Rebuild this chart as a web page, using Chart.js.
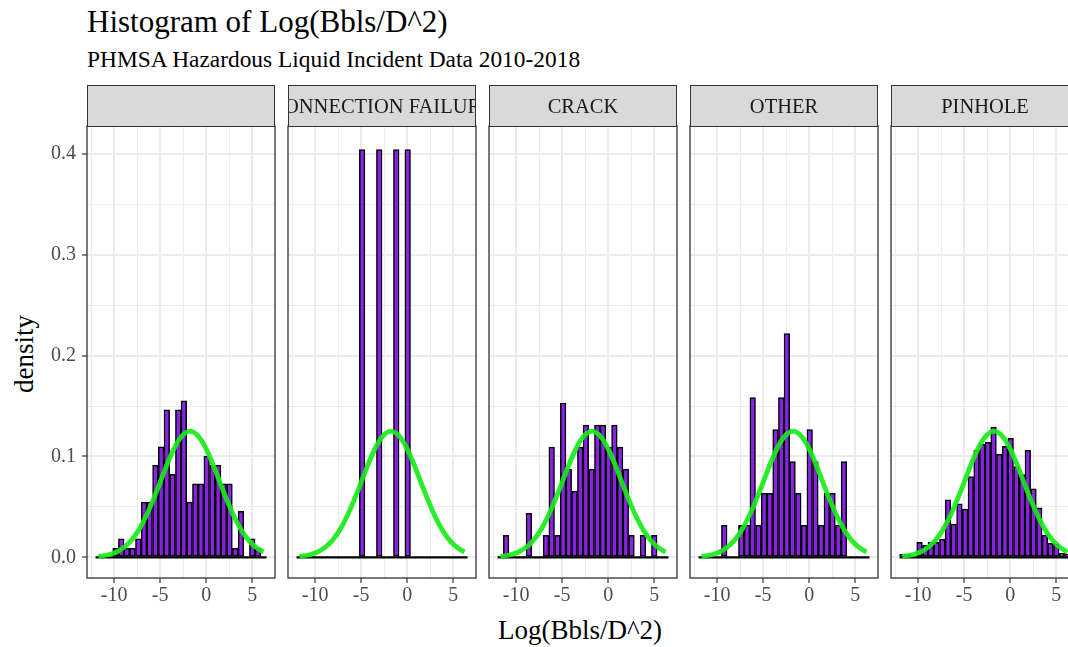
<!DOCTYPE html>
<html>
<head>
<meta charset="utf-8">
<script src="https://cdn.jsdelivr.net/npm/chart.js@4.4.0/dist/chart.umd.min.js"></script>
<style>
  html, body { margin: 0; padding: 0; background: #fff; width: 1068px; height: 647px; overflow: hidden; }
  body { position: relative; font-family: "Liberation Serif", "Times New Roman", serif; color: #000; }
  .title { position: absolute; left: 87px; top: 6px; font-size: 31px; line-height: 1; white-space: nowrap; }
  .subtitle { position: absolute; left: 87px; top: 48px; font-size: 23.4px; line-height: 1; white-space: nowrap; }
  .strip { position: absolute; top: 85px; width: 188px; height: 42px; box-sizing: border-box;
           border: 1px solid #333; background: #d9d9d9; color: #1a1a1a; font-size: 20.5px;
           display: flex; align-items: center; justify-content: center; overflow: hidden; white-space: nowrap; }
  canvas.panel { position: absolute; top: 122px; }
  .xtitle { position: absolute; left: 380px; width: 400px; top: 617px; text-align: center; font-size: 27px; line-height: 1; }
  .ytitle { position: absolute; left: 24px; top: 354px; font-size: 27px; line-height: 1; white-space: nowrap;
            transform: translate(-50%, -50%) rotate(-90deg); }
</style>
</head>
<body>
<div class="title">Histogram of Log(Bbls/D^2)</div>
<div class="subtitle">PHMSA Hazardous Liquid Incident Data 2010-2018</div>
<div class="xtitle">Log(Bbls/D^2)</div>
<div class="ytitle">density</div>
<div id="wrap"></div>
<script>
// facet labels (first one is a blank cause)
const facets = ["", "CONNECTION FAILURE", "CRACK", "OTHER", "PINHOLE"];

// histogram bin centres, width 0.619
const binWidth = 0.619;
const binMids = [-11.70, -11.08, -10.46, -9.84, -9.22, -8.61, -7.99, -7.37, -6.75, -6.13,
                 -5.51, -4.89, -4.27, -3.65, -3.03, -2.42, -1.80, -1.18, -0.56, 0.06,
                 0.68, 1.30, 1.92, 2.54, 3.16, 3.78, 4.39, 5.01, 5.63, 6.25];

// densities per facet, one value per bin
const blankVals = [0, 0, 0, 0.0091, 0.0183, 0.0091, 0.0091, 0.0183, 0.0548, 0.0548,
                   0.0913, 0.1095, 0.1461, 0.0822, 0.1461, 0.1552, 0.0548, 0.0730, 0.0730, 0.1004,
                   0.0913, 0.0913, 0.0730, 0.0730, 0.0091, 0.0456, 0, 0.0183, 0.0091, 0];
const connectionVals = [0, 0, 0, 0, 0, 0, 0, 0, 0, 0,
                        0, 0.404, 0, 0, 0.404, 0, 0, 0.404, 0, 0.404,
                        0, 0, 0, 0, 0, 0, 0, 0, 0, 0];
const crackVals = [0, 0.0218, 0, 0, 0, 0.0437, 0, 0, 0.0218, 0.1092,
                   0.0218, 0.1529, 0.0874, 0.0655, 0.1092, 0.1310, 0.0874, 0.1310, 0.1310, 0.1092,
                   0.1310, 0.1092, 0.0874, 0.0218, 0, 0.0218, 0, 0.0218, 0, 0];
const otherVals = [0, 0, 0, 0, 0.0317, 0, 0, 0.0317, 0.0317, 0.1584,
                   0.0317, 0.0634, 0.0634, 0.1267, 0.1584, 0.2218, 0.0950, 0.0634, 0.0317, 0.1267,
                   0.0950, 0.0317, 0.0634, 0.0634, 0.0317, 0.0950, 0, 0, 0, 0];
const pinholeVals = [0.003, 0.003, 0, 0.015, 0.012, 0.015, 0.015, 0.018, 0.057, 0.033,
                     0.053, 0.048, 0.080, 0.106, 0.112, 0.114, 0.129, 0.102, 0.110, 0.118,
                     0.090, 0.082, 0.106, 0.068, 0.049, 0.022, 0.014, 0.013, 0.004, 0.003];
const facetVals = [blankVals, connectionVals, crackVals, otherVals, pinholeVals];

// normal density overlay (same in every facet)
const curveX = [-11.7, -11, -10.5, -10, -9.5, -9, -8.5, -8, -7.5, -7, -6.5, -6, -5.5, -5, -4.5,
                -4, -3.5, -3, -2.5, -2, -1.75, -1.5, -1, -0.5, 0, 0.5, 1, 1.5, 2, 2.5, 3, 3.5,
                4, 4.5, 5, 5.5, 6, 6.24];
const curveY = [0.0010, 0.0019, 0.0029, 0.0044, 0.0065, 0.0094, 0.0133, 0.0183, 0.0246, 0.0323,
                0.0412, 0.0515, 0.0626, 0.0744, 0.0862, 0.0975, 0.1075, 0.1158, 0.1216, 0.1246,
                0.1250, 0.1246, 0.1216, 0.1158, 0.1075, 0.0975, 0.0862, 0.0744, 0.0626, 0.0515,
                0.0412, 0.0323, 0.0246, 0.0183, 0.0133, 0.0094, 0.0065, 0.0054];

// axis ticks (majors labelled, minors only as grid)
const xTicks = [-12.5, -10, -7.5, -5, -2.5, 0, 2.5, 5];
const yTicks = [0, 0.05, 0.1, 0.15, 0.2, 0.25, 0.3, 0.35, 0.4];

const PURPLE = "#8a22e4";
const GREEN = "rgba(24, 236, 24, 0.92)";
const GRID = "#ebebeb";
const DARK = "#333333";

Chart.defaults.font.family = '"Liberation Serif", "Times New Roman", serif';
Chart.defaults.font.size = 20;
Chart.defaults.color = "#4d4d4d";

const isMajorX = v => Math.abs(v % 5) < 1e-9;
const isMajorY = v => Math.abs(Math.round(v * 10) - v * 10) < 1e-9;

const panelBorder = {
  id: "panelBorder",
  afterDatasetsDraw(chart) {
    const a = chart.chartArea, ctx = chart.ctx;
    ctx.save();
    ctx.strokeStyle = DARK;
    ctx.lineWidth = 1.3;
    ctx.strokeRect(a.left, a.top, a.right - a.left, a.bottom - a.top);
    ctx.restore();
  }
};

const wrap = document.getElementById("wrap");
const PANEL_W = 188, PANEL_H = 452, PAD = 4, XAXIS_H = 40;

facets.forEach((name, i) => {
  const left = 87 + 201 * i;
  const padL = i === 0 ? 87 : PAD;

  const strip = document.createElement("div");
  strip.className = "strip";
  strip.style.left = left + "px";
  strip.innerHTML = "<span>" + name + "</span>";
  document.body.appendChild(strip);

  const cv = document.createElement("canvas");
  cv.className = "panel";
  cv.width = padL + PANEL_W + PAD;
  cv.height = PAD + PANEL_H + XAXIS_H;
  cv.style.left = (left - padL) + "px";
  wrap.appendChild(cv);

  const vals = facetVals[i];
  new Chart(cv, {
    type: "bar",
    data: {
      datasets: [
        {
          type: "line",
          data: curveX.map((x, j) => ({ x, y: curveY[j] })),
          borderColor: GREEN,
          borderWidth: 4.8,
          pointRadius: 0,
          cubicInterpolationMode: "monotone",
          order: 0,
        },
        {
          type: "line",
          data: [
            { x: binMids[0] - binWidth / 2, y: 0 },
            { x: binMids[binMids.length - 1] + binWidth / 2, y: 0 },
          ],
          borderColor: "#000",
          borderWidth: 2.2,
          pointRadius: 0,
          order: 1,
        },
        {
          type: "bar",
          data: binMids.map((x, j) => ({ x, y: vals[j] })),
          backgroundColor: PURPLE,
          borderColor: "#000",
          borderWidth: 1.5,
          borderSkipped: false,
          barPercentage: 1,
          categoryPercentage: 1,
          order: 2,
        },
      ],
    },
    options: {
      responsive: false,
      animation: false,
      devicePixelRatio: 1,
      layout: { padding: { top: PAD, right: PAD, left: 0, bottom: 0 } },
      plugins: { legend: { display: false }, tooltip: { enabled: false } },
      scales: {
        x: {
          type: "linear",
          min: -12.94,
          max: 7.48,
          offset: false,
          afterBuildTicks: s => { s.ticks = xTicks.map(v => ({ value: v })); },
          afterFit: s => { s.height = XAXIS_H; s.paddingLeft = 0; s.paddingRight = 0; },
          ticks: {
            autoSkip: false,
            maxRotation: 0,
            padding: 1,
            color: "#4d4d4d",
            callback: v => (isMajorX(v) ? String(v) : ""),
          },
          grid: {
            offset: false,
            color: GRID,
            lineWidth: c => (isMajorX(c.tick.value) ? 2 : 1),
            tickLength: 5,
            tickColor: c => (isMajorX(c.tick.value) ? DARK : "rgba(0,0,0,0)"),
            tickWidth: 1.2,
          },
          border: { display: false },
        },
        y: {
          min: -0.0204,
          max: 0.4274,
          afterBuildTicks: s => { s.ticks = yTicks.map(v => ({ value: v })); },
          afterFit: s => { s.width = padL; s.paddingTop = 0; s.paddingBottom = 0; },
          ticks: {
            display: i === 0,
            autoSkip: false,
            padding: 6,
            color: "#4d4d4d",
            callback: v => (isMajorY(v) ? v.toFixed(1) : ""),
          },
          grid: {
            color: GRID,
            lineWidth: c => (isMajorY(c.tick.value) ? 2 : 1),
            drawTicks: i === 0,
            tickLength: 5,
            tickColor: c => (isMajorY(c.tick.value) ? DARK : "rgba(0,0,0,0)"),
            tickWidth: 1.2,
          },
          border: { display: false },
        },
      },
    },
    plugins: [panelBorder],
  });
});
</script>
</body>
</html>
